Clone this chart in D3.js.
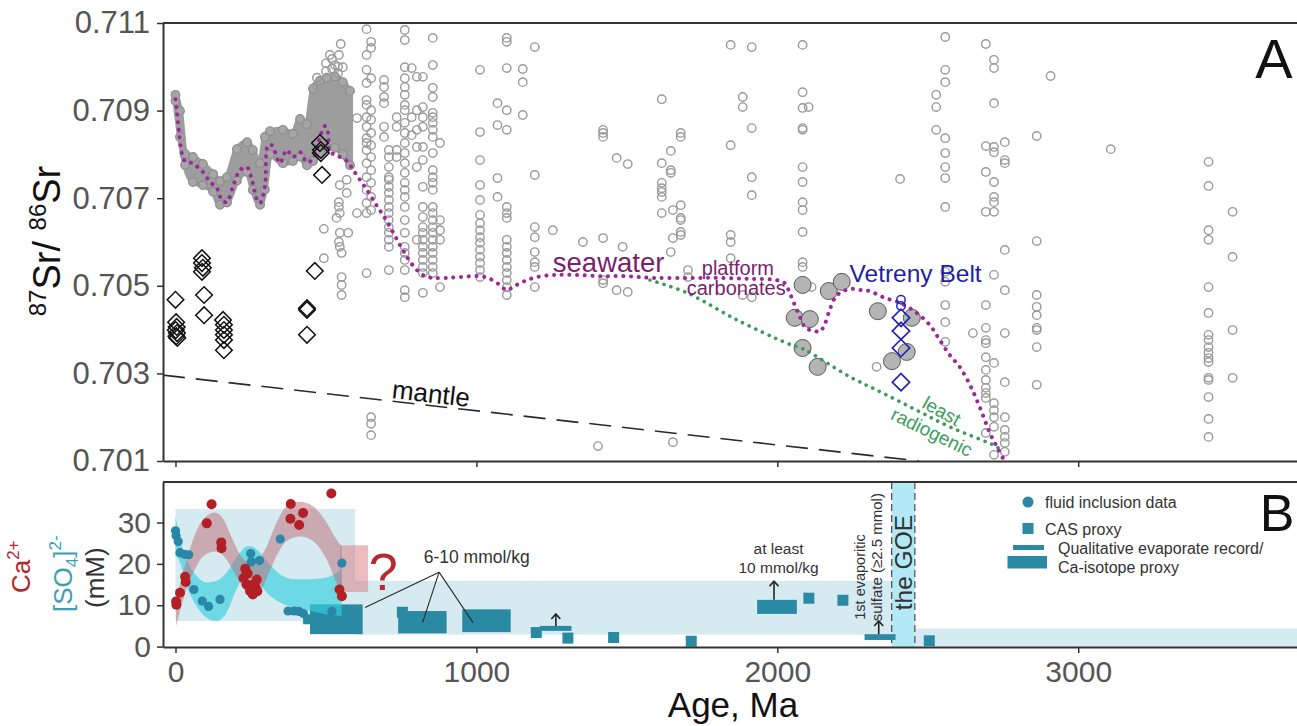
<!DOCTYPE html>
<html><head><meta charset="utf-8">
<script src="https://cdn.jsdelivr.net/npm/d3@7"></script>
<style>
html,body{margin:0;padding:0;background:#fff;}
svg{display:block;font-family:"Liberation Sans",Arial,Helvetica,sans-serif;}
</style></head><body>
<svg id="chart" width="1297" height="726"></svg>
<script>
// ---------------- DATA ----------------
const xTicks = [0, 1000, 2000, 3000];
const srTicks = [0.701, 0.703, 0.705, 0.707, 0.709, 0.711];
const mmTicks = [0, 10, 20, 30];

// Phanerozoic dense band of seawater data: [age, low, high]
const phanBand = [
  [0,0.70922,0.70936],[15,0.70840,0.70899],[32,0.70776,0.70801],[58,0.70737,0.70794],
  [91,0.70730,0.70778],[125,0.70715,0.70755],[148,0.70685,0.70739],[171,0.70690,0.70748],
  [204,0.70740,0.70812],[238,0.70760,0.70828],[257,0.70719,0.70810],[281,0.70685,0.70780],
  [297,0.70720,0.70840],[314,0.70800,0.70853],[357,0.70780,0.70856],[390,0.70785,0.70847],
  [414,0.70795,0.70881],[437,0.70775,0.70869],[457,0.70785,0.70950],[480,0.70805,0.70968],
  [503,0.70815,0.70975],[530,0.70815,0.70978],[556,0.70800,0.70965],[580,0.70775,0.70945]
];

// Scattered carbonate data (open grey circles): [age, [Sr values]]
const grayColumns = [
  [470,[0.70975,0.70958]],[500,[0.71008,0.70990]],[520,[0.71018,0.70996]],[540,[0.71000,0.70985]],
  [493,[0.70630,0.70563]],
  [513,[0.71027]],[530,[0.71004]],[535,[0.70655]],
  [543,[0.71027,0.70691,0.70680,0.70600]],
  [546,[0.70730,0.70666,0.70621,0.70589]],
  [549,[0.71052]],
  [552,[0.70575,0.70520,0.70502,0.70479]],
  [556,[0.70999]],[569,[0.70742,0.70712]],[574,[0.70621]],
  [603,[0.70883,0.70666]],
  [635,[0.71086,0.71027,0.70993,0.70963,0.70924,0.70913,0.70885,0.70863,0.70837,0.70826,0.70810,0.70780,0.70748,0.70719,0.70689,0.70666,0.70529]],
  [650,[0.71057,0.71043,0.70974,0.70901,0.70879,0.70849,0.70821,0.70794,0.70764,0.70735,0.70703,0.70673,0.70200,0.70185,0.70159]],
  [693,[0.70970,0.70954,0.70931,0.70917,0.70863,0.70840]],
  [709,[0.70810,0.70794,0.70771,0.70748,0.70742,0.70726,0.70712,0.70696,0.70680,0.70666,0.70650,0.70634,0.70621,0.70605,0.70589,0.70536]],
  [735,[0.70885,0.70863,0.70810,0.70794]],
  [762,[0.71084,0.71061,0.70999,0.70974,0.70954,0.70936,0.70913,0.70901,0.70872,0.70849,0.70826,0.70803,0.70780,0.70758,0.70735,0.70719,0.70703,0.70680,0.70650,0.70621,0.70589,0.70575,0.70559,0.70536,0.70490,0.70474]],
  [785,[0.70997,0.70885,0.70844]],
  [802,[0.70977,0.70901,0.70856,0.70817,0.70771,0.70605]],
  [822,[0.70977,0.70908,0.70885,0.70863,0.70817,0.70787,0.70726,0.70680,0.70657,0.70634,0.70621,0.70605,0.70589,0.70575,0.70559,0.70543,0.70529,0.70484]],
  [855,[0.71066,0.71004,0.70952,0.70931,0.70895,0.70885,0.70872,0.70856,0.70840,0.70803,0.70764,0.70748,0.70735,0.70719,0.70680,0.70666,0.70650,0.70634,0.70621,0.70605,0.70589,0.70575,0.70559,0.70543,0.70529]],
  [879,[0.70826,0.70650,0.70627,0.70605,0.70497]],
  [1012,[0.70993,0.70851,0.70787,0.70730,0.70696,0.70662,0.70643,0.70627,0.70611,0.70598,0.70582,0.70566,0.70552,0.70536,0.70520]],
  [1070,[0.70917,0.70867,0.70746,0.70703]],
  [1101,[0.71066,0.71057,0.70997,0.70901,0.70856,0.70680,0.70666,0.70655,0.70605,0.70589,0.70575,0.70559,0.70543,0.70529,0.70513,0.70497,0.70479]],
  [1154,[0.70995,0.70965,0.70890]],
  [1194,[0.71045,0.70753,0.70634,0.70611,0.70577,0.70554,0.70543,0.70497]],
  [1254,[0.70627]],[1354,[0.70600]],[1404,[0.70134]],
  [1421,[0.70856,0.70849,0.70840,0.70609,0.70513,0.70506]],
  [1466,[0.70792,0.70490]],[1486,[0.70589]],[1503,[0.70778,0.70486]],
  [1616,[0.70926,0.70780,0.70735,0.70723,0.70714,0.70703,0.70666]],
  [1646,[0.70808,0.70764,0.70758,0.70577]],
  [1653,[0.70673,0.70609,0.70143]],
  [1679,[0.70849,0.70840,0.70684,0.70655,0.70650,0.70623,0.70616]],
  [1703,[0.70536,0.70520]],
  [1845,[0.71050,0.70821,0.70616,0.70600,0.70563]],
  [1885,[0.70931,0.70908,0.70479]],
  [1915,[0.71045,0.70860,0.70748,0.70707,0.70474]],
  [2084,[0.71050,0.70942,0.70906,0.70860,0.70856,0.70771,0.70737,0.70691,0.70673,0.70623,0.70554,0.70543]],
  [2104,[0.70908]],[2114,[0.70497]],[2330,[0.70315]],[2408,[0.70744]],
  [2528,[0.70936,0.70908,0.70856]],
  [2558,[0.71068,0.70993,0.70965,0.70837,0.70803,0.70771,0.70746,0.70680,0.70532,0.70509,0.70456,0.70417,0.70372]],
  [2650,[0.70392]],
  [2693,[0.71052,0.70819,0.70760,0.70669,0.70456,0.70404,0.70376,0.70369,0.70337,0.70308,0.70285,0.70267,0.70255,0.70244,0.70164]],
  [2720,[0.71016,0.70997,0.70917,0.70817,0.70805,0.70737,0.70703,0.70691,0.70669,0.70525,0.70324,0.70232,0.70216,0.70200,0.70178,0.70114]],
  [2756,[0.70828,0.70787,0.70780,0.70582,0.70490,0.70392,0.70280,0.70200,0.70171,0.70155,0.70141,0.70121]],
  [2862,[0.70842,0.70602,0.70479,0.70452,0.70433,0.70404,0.70399,0.70360,0.70274]],
  [2908,[0.70979]],[3108,[0.70812]],
  [3433,[0.70783,0.70728,0.70627,0.70605,0.70497,0.70438,0.70388,0.70376,0.70360,0.70347,0.70335,0.70326,0.70290,0.70285,0.70246,0.70196,0.70155]],
  [3513,[0.70669,0.70566,0.70399,0.70290]]
];

// seawater curve (purple dotted)
const seawater = [
  [0,0.70926],[5,0.70895],[12,0.70850],[22,0.70800],[35,0.70782],[58,0.70780],[75,0.70770],[91,0.70760],
  [115,0.70737],[137,0.70724],[154,0.70696],[171,0.70691],[191,0.70726],[214,0.70764],[237,0.70771],
  [254,0.70742],[270,0.70698],[281,0.70689],[297,0.70726],[307,0.70820],[318,0.70822],[331,0.70805],
  [347,0.70780],[370,0.70810],[390,0.70794],[414,0.70805],[437,0.70782],[457,0.70790],[480,0.70840],
  [497,0.70865],[507,0.70850],[513,0.70805],[530,0.70800],[547,0.70794],[570,0.70785],[590,0.70765],
  [613,0.70742],[636,0.70719],[663,0.70689],[689,0.70662],[719,0.70627],[746,0.70593],[772,0.70563],
  [802,0.70536],[829,0.70522],[855,0.70518],[895,0.70518],[945,0.70520],[1012,0.70522],[1045,0.70516],
  [1078,0.70502],[1101,0.70490],[1128,0.70500],[1161,0.70511],[1201,0.70520],[1261,0.70525],[1328,0.70525],
  [1411,0.70522],[1495,0.70522],[1587,0.70518],[1710,0.70518],[1810,0.70518],[1910,0.70516],[1998,0.70513],
  [2025,0.70506],[2041,0.70484],[2058,0.70456],[2075,0.70429],[2091,0.70406],[2108,0.70399],[2124,0.70397],
  [2141,0.70395],[2157,0.70411],[2174,0.70445],[2191,0.70472],[2208,0.70484],[2227,0.70490],[2250,0.70493],
  [2280,0.70490],[2307,0.70488],[2351,0.70474],[2408,0.70461],[2463,0.70438],[2506,0.70411],[2540,0.70376],
  [2573,0.70342],[2606,0.70315],[2640,0.70274],[2663,0.70239],[2687,0.70198],[2706,0.70164],[2730,0.70132],
  [2749,0.70107]
];
// least radiogenic trend (green dotted)
const leastRadiogenic = [[1577,0.70513],[1700,0.70484],[1866,0.70422],[2032,0.70369],[2085,0.70356],
  [2242,0.70292],[2351,0.70255],[2463,0.70216],[2573,0.70178],[2730,0.70132],[2749,0.70121]];
// mantle evolution (dashed)
const mantle = [[-41.5,0.70296],[2470,0.70100]];

// black open diamonds
const blackDiamonds = [
  [0,0.70468],[2,0.70417],[4,0.70406],[1,0.70399],[5,0.70392],[3,0.70385],[6,0.70381],
  [88,0.70563],[88,0.70552],[91,0.70541],[88,0.70532],[95,0.70479],[95,0.70433],
  [158,0.70422],[161,0.70411],[161,0.70399],[161,0.70388],[161,0.70376],[161,0.70353],
  [437,0.70449],[437,0.70445],[437,0.70388],[463,0.70534],
  [480,0.70826],[483,0.70810],[483,0.70803],[487,0.70753]
];
// Vetreny Belt (blue)
const vetrenyDiamonds = [[2411,0.70427],[2411,0.70397],[2411,0.70358],[2411,0.70280]];
const vetrenyCircles = [[2411,0.70468],[2411,0.70454]];
// platform carbonates (filled grey circles)
const grayFilled = [[2084,0.70502],[2058,0.70427],[2108,0.70424],[2084,0.70358],[2134,0.70315],
  [2171,0.70488],[2214,0.70509],[2334,0.70442],[2447,0.70427],[2381,0.70328],[2430,0.70349]];

// ---- Panel B ----
const caDots = [[2,10.9],[3,10.1],[15,13],[32,16.9],[34,15.6],[104,29.8],[120,34.4],[152,25.2],[153,23.8],
  [226,16.6],[232,18.8],[236,15],[240,17.6],[244,14.8],[248,13.4],[257,12.6],[262,15.2],[266,14.3],
  [270,16.2],[272,13.4],[383,34.5],[382,30.9],[411,29.4],[424,32.3],[518,37],[545,13.8],[553,12.2]];
const so4Dots = [[0,28],[2,26.8],[9,25.4],[15,22.7],[30,22.3],[44,22.2],[61,13.8],[89,11],[110,9.7],
  [148,11.4],[250,22.5],[252,20.5],[279,20.8],[348,26],[374,8.6],[394,8.6],[410,8.5],[425,8],[520,8.5],[553,20.2]];
const caBand = [[2,4.9,11.5],[26,11.5,18],[59,17.9,26],[92,21.8,30.8],[131,23,32.4],[159,22,30.8],
  [187,19,26.4],[214,15.5,22.3],[242,12.5,20.4],[258,11.9,20.5],[281,13.1,21.5],[303,16.5,24.2],
  [336,22,30],[369,25.5,33.9],[414,26.6,35],[458,25.5,33.9],[502,21.1,30],[535,15.5,25.9],[552,13.1,24.2]];
const so4Band = [[0,22,31.5],[15,20.4,25.9],[37,14.7,21.1],[70,9.8,17.1],[103,7,15.5],[137,6.2,15.9],
  [170,8.2,17.9],[203,13.9,21.6],[242,17.9,24.3],[270,16.3,23.5],[303,13.1,20.7],[347,10.7,17.5],
  [391,9.5,16.3],[447,8.6,16.3],[502,7.8,16.7],[552,7.4,18.7]];
const blueBoxes = [[0,597,6.2,33.3],[597,2380,2.9,15.9],[2457,3800,0,4.4]];
const goeBand = [2380,2457];
const caRect = [547,640,13.2,24.5];
const caIsoBars = [[447,622,3.0,10.2],[424,447,5.4,7.8],[740,901,3.2,8.6],[953,1114,3.5,9.0],[1933,2065,7.9,11.3]];
const evapBars = [[1211,1316,3.8,5.0],[2290,2393,1.6,3.0]];
const casProxy = [[754,8.3],[1199,3.4],[1304,2.05],[1456,2.2],[1714,1.3],[2105,11.7],[2218,11.2],[2505,1.4]];
const arrowsUp = [[1264,5.0,7.9],[1989,11.3,15.8],[2337,3.0,6.2]];
const leaderApex = [876,18.0];
const leaderEnds = [[630,9.45],[821,5.8],[989,5.8]];

// ---------------- DRAW ----------------
const svg = d3.select("#chart");
svg.append("rect").attr("width",1297).attr("height",726).attr("fill","#fff");
const x = d3.scaleLinear().domain([-41.5, 3737]).range([163, 1300]);
const yA = d3.scaleLinear().domain([0.701, 0.711]).range([461, 23]);
const yB = d3.scaleLinear().domain([-0.1, 39.8]).range([647, 482]);
const FONT = '"Liberation Sans",Arial,Helvetica,sans-serif';

const defs = svg.append("defs");
defs.append("clipPath").attr("id","clipA").append("rect")
  .attr("x",x.range()[0]).attr("y",yA.range()[1]).attr("width",x.range()[1]-x.range()[0]).attr("height",yA.range()[0]-yA.range()[1]);
defs.append("clipPath").attr("id","clipB").append("rect")
  .attr("x",x.range()[0]).attr("y",yB.range()[1]).attr("width",x.range()[1]-x.range()[0]).attr("height",yB.range()[0]-yB.range()[1]);

// ===== Panel A =====
const gA = svg.append("g").attr("clip-path","url(#clipA)");
const bandArea = d3.area().x(d=>x(d[0])).y0(d=>yA(d[1])).y1(d=>yA(d[2])).curve(d3.curveMonotoneX);
gA.append("path").datum(phanBand).attr("d",bandArea).attr("fill","#9d9d9d").attr("stroke","#9d9d9d").attr("stroke-width",6).attr("stroke-linejoin","round");
const bandPts = phanBand.flatMap(d=>[[d[0],d[1]],[d[0],d[2]]]);
gA.selectAll("circle.band").data(bandPts).join("circle").attr("class","band")
  .attr("cx",d=>x(d[0])).attr("cy",d=>yA(d[1])).attr("r",4.3)
  .attr("fill","#a6a6a6").attr("stroke","#8f8f8f").attr("stroke-width",1.3);

const grayPts = grayColumns.flatMap(c=>c[1].map(v=>[c[0],v]));
gA.selectAll("circle.gray").data(grayPts).join("circle").attr("class","gray")
  .attr("cx",d=>x(d[0])).attr("cy",d=>yA(d[1])).attr("r",4.2)
  .attr("fill","none").attr("stroke","#9a9a9a").attr("stroke-width",1.4);

gA.selectAll("circle.filled").data(grayFilled).join("circle").attr("class","filled")
  .attr("cx",d=>x(d[0])).attr("cy",d=>yA(d[1])).attr("r",8.5)
  .attr("fill","#b4b4b4").attr("stroke","#5a5a5a").attr("stroke-width",1);

// mantle dashed line
gA.append("path").datum(mantle).attr("d",d3.line().x(d=>x(d[0])).y(d=>yA(d[1])))
  .attr("fill","none").attr("stroke","#2a2a2a").attr("stroke-width",1.6).attr("stroke-dasharray","22 11");

// seawater & least radiogenic dotted lines
gA.append("path").datum(leastRadiogenic).attr("d",d3.line().x(d=>x(d[0])).y(d=>yA(d[1])).curve(d3.curveCatmullRom))
  .attr("fill","none").attr("stroke","#3c9a5c").attr("stroke-width",3.6).attr("stroke-linecap","round").attr("stroke-dasharray","0.1 7.2");
gA.append("path").datum(seawater).attr("d",d3.line().x(d=>x(d[0])).y(d=>yA(d[1])).curve(d3.curveCatmullRom))
  .attr("fill","none").attr("stroke","#9b2a98").attr("stroke-width",4).attr("stroke-linecap","round").attr("stroke-dasharray","0.1 7.6");

// diamonds
const diamond = d3.symbol().type(d3.symbolSquare).size(138);
gA.selectAll("path.bd").data(blackDiamonds).join("path").attr("class","bd")
  .attr("d",diamond).attr("transform",d=>`translate(${x(d[0])},${yA(d[1])}) rotate(45)`)
  .attr("fill","none").attr("stroke","#111").attr("stroke-width",1.5);
gA.selectAll("circle.vc").data(vetrenyCircles).join("circle").attr("class","vc")
  .attr("cx",d=>x(d[0])).attr("cy",d=>yA(d[1])).attr("r",4.2)
  .attr("fill","none").attr("stroke","#2626b0").attr("stroke-width",1.5);
gA.selectAll("path.vd").data(vetrenyDiamonds).join("path").attr("class","vd")
  .attr("d",d3.symbol().type(d3.symbolSquare).size(150)).attr("transform",d=>`translate(${x(d[0])},${yA(d[1])}) rotate(45)`)
  .attr("fill","none").attr("stroke","#2626b0").attr("stroke-width",1.7);

// annotations A
const tA = svg.append("g").attr("font-family",FONT);
tA.append("text").attr("x",x(1254)).attr("y",yA(0.70532)).attr("font-size",27.5).attr("fill","#7a1f6f").text("seawater");
tA.append("text").attr("x",x(1749)).attr("y",yA(0.70525)).attr("font-size",20).attr("fill","#7a1f6f").text("platform");
tA.append("text").attr("x",x(1699)).attr("y",yA(0.70479)).attr("font-size",20).attr("fill","#7a1f6f").text("carbonates");
tA.append("text").attr("x",x(2240)).attr("y",yA(0.70509)).attr("font-size",24.5).attr("fill","#1f1fa6").text("Vetreny Belt");
{
  const ang = Math.atan2(yA(mantle[1][1])-yA(mantle[0][1]), x(mantle[1][0])-x(mantle[0][0]))*180/Math.PI;
  const a = 846, s = mantle[0][1] + (mantle[1][1]-mantle[0][1])*(a-mantle[0][0])/(mantle[1][0]-mantle[0][0]);
  tA.append("text").attr("transform",`translate(${x(a)},${yA(s)-3}) rotate(${ang})`)
    .attr("text-anchor","middle").attr("font-size",26).attr("fill","#111").text("mantle");
}
tA.append("text").attr("transform",`translate(${x(2546)},${yA(0.70214)}) rotate(29)`).attr("text-anchor","middle")
  .attr("dominant-baseline","central").attr("font-size",19).attr("fill","#3aa05a").text("least");
tA.append("text").attr("transform",`translate(${x(2513)},${yA(0.70166)}) rotate(26)`).attr("text-anchor","middle")
  .attr("dominant-baseline","central").attr("font-size",19).attr("fill","#3aa05a").text("radiogenic");
tA.append("text").attr("x",1274).attr("y",78).attr("text-anchor","middle").attr("font-size",56).attr("fill","#111").text("A");

// axes A
function styleAxis(g, fs){
  g.select(".domain").attr("stroke","#333").attr("stroke-width",2);
  g.selectAll(".tick line").attr("stroke","#333").attr("stroke-width",1.5);
  g.selectAll(".tick text").attr("fill","#555").attr("font-size",fs).attr("font-family",FONT);
}
const axAy = svg.append("g").attr("transform",`translate(${x.range()[0]},0)`)
  .call(d3.axisLeft(yA).tickValues(srTicks).tickFormat(d3.format(".3f")).tickSize(6).tickPadding(7).tickSizeOuter(0));
styleAxis(axAy,31);
const axAx = svg.append("g").attr("transform",`translate(0,${yA.range()[0]})`)
  .call(d3.axisBottom(x).tickValues(xTicks).tickFormat("").tickSize(6).tickSizeOuter(0));
styleAxis(axAx,30);
svg.append("line").attr("x1",x.range()[0]).attr("x2",x.range()[1]).attr("y1",yA.range()[1]).attr("y2",yA.range()[1])
  .attr("stroke","#333").attr("stroke-width",2);
{
  const t = svg.append("text").attr("transform","translate(60,241) rotate(-90)").attr("text-anchor","middle")
    .attr("font-family",FONT).attr("fill","#111");
  t.append("tspan").attr("font-size",24).attr("dy",-14).text("87");
  t.append("tspan").attr("font-size",38).attr("dy",14).text("Sr/\u00A0");
  t.append("tspan").attr("font-size",24).attr("dy",-14).text("86");
  t.append("tspan").attr("font-size",38).attr("dy",14).text("Sr");
}

// ===== Panel B =====
const gB = svg.append("g").attr("clip-path","url(#clipB)");
gB.selectAll("rect.box").data(blueBoxes).join("rect").attr("class","box")
  .attr("x",d=>x(d[0])).attr("width",d=>x(d[1])-x(d[0]))
  .attr("y",d=>yB(d[3])).attr("height",d=>yB(d[2])-yB(d[3])).attr("fill","#d6eaf1");
gB.append("rect").attr("x",x(goeBand[0])).attr("width",x(goeBand[1])-x(goeBand[0]))
  .attr("y",yB.range()[1]).attr("height",yB.range()[0]-yB.range()[1]).attr("fill","#b3e8f6");
gB.selectAll("line.goe").data(goeBand).join("line").attr("class","goe")
  .attr("x1",d=>x(d)).attr("x2",d=>x(d)).attr("y1",yB.range()[1]).attr("y2",yB.range()[0])
  .attr("stroke","#555").attr("stroke-width",1.3).attr("stroke-dasharray","7 4");
gB.append("rect").attr("x",x(caRect[0])).attr("width",x(caRect[1])-x(caRect[0]))
  .attr("y",yB(caRect[3])).attr("height",yB(caRect[2])-yB(caRect[3])).attr("fill","rgba(215,120,128,0.5)");
gB.selectAll("rect.bar").data(caIsoBars.concat(evapBars)).join("rect").attr("class","bar")
  .attr("x",d=>x(d[0])).attr("width",d=>x(d[1])-x(d[0]))
  .attr("y",d=>yB(d[3])).attr("height",d=>yB(d[2])-yB(d[3])).attr("fill","#2b8aa3");
gB.selectAll("rect.cas").data(casProxy).join("rect").attr("class","cas")
  .attr("x",d=>x(d[0])-5.5).attr("y",d=>yB(d[1])-5.5).attr("width",11).attr("height",11).attr("fill","#2b8aa3");
const bandB = d3.area().x(d=>x(d[0])).y0(d=>yB(d[1])).y1(d=>yB(d[2])).curve(d3.curveMonotoneX);
gB.append("path").datum(so4Band).attr("d",bandB).attr("fill","rgba(50,208,222,0.65)");
gB.append("path").datum(caBand).attr("d",bandB).attr("fill","rgba(190,105,115,0.5)");
gB.selectAll("circle.so4").data(so4Dots).join("circle").attr("class","so4")
  .attr("cx",d=>x(d[0])).attr("cy",d=>yB(d[1])).attr("r",4.6).attr("fill","#2b86a8");
gB.selectAll("circle.ca").data(caDots).join("circle").attr("class","ca")
  .attr("cx",d=>x(d[0])).attr("cy",d=>yB(d[1])).attr("r",5).attr("fill","#b21f24");
// arrows
const ar = gB.selectAll("g.arrow").data(arrowsUp).join("g").attr("class","arrow");
ar.append("line").attr("x1",d=>x(d[0])).attr("x2",d=>x(d[0])).attr("y1",d=>yB(d[1])).attr("y2",d=>yB(d[2]))
  .attr("stroke","#222").attr("stroke-width",1.6);
ar.append("path").attr("d",d=>`M${x(d[0])-4.5},${yB(d[2])+5} L${x(d[0])},${yB(d[2])} L${x(d[0])+4.5},${yB(d[2])+5}`)
  .attr("fill","none").attr("stroke","#222").attr("stroke-width",1.6);
// leader lines
gB.selectAll("line.lead").data(leaderEnds).join("line").attr("class","lead")
  .attr("x1",x(leaderApex[0])).attr("y1",yB(leaderApex[1])).attr("x2",d=>x(d[0])).attr("y2",d=>yB(d[1]))
  .attr("stroke","#2a2a2a").attr("stroke-width",1.1);

// annotations B
const tB = svg.append("g").attr("font-family",FONT);
tB.append("text").attr("x",x(690)).attr("y",yB(13.8)).attr("text-anchor","middle").attr("font-size",52).attr("fill","#b5292f").text("?");
tB.append("text").attr("x",x(1001)).attr("y",yB(20.3)).attr("text-anchor","middle").attr("font-size",17.5).attr("fill","#333").text("6-10 mmol/kg");
tB.append("text").attr("x",x(2004)).attr("y",yB(22.5)).attr("text-anchor","middle").attr("font-size",15.5).attr("fill","#333").text("at least");
tB.append("text").attr("x",x(2004)).attr("y",yB(17.7)).attr("text-anchor","middle").attr("font-size",15.5).attr("fill","#333").text("10 mmol/kg");
tB.append("text").attr("transform",`translate(${x((goeBand[0]+goeBand[1])/2)+8.5},${yB(20.3)}) rotate(-90)`)
  .attr("text-anchor","middle").attr("font-size",24.5).attr("fill","#333").text("the GOE");
tB.append("text").attr("transform",`translate(${x(2290)},${yB(6.5)}) rotate(-90)`)
  .attr("font-size",14.5).attr("fill","#333").text("1st evaporitic");
tB.append("text").attr("transform",`translate(${x(2348)},${yB(6.1)}) rotate(-90)`)
  .attr("font-size",15).attr("fill","#333").text("sulfate (\u22652.5 mmol)");
// legend
const lg = svg.append("g").attr("font-family",FONT).attr("font-size",16).attr("fill","#333");
lg.append("circle").attr("cx",1028).attr("cy",502).attr("r",5.5).attr("fill","#2b86a8");
lg.append("text").attr("x",1045).attr("y",508).text("fluid inclusion data");
lg.append("rect").attr("x",1022.5).attr("y",523).attr("width",11).attr("height",11).attr("fill","#2b8aa3");
lg.append("text").attr("x",1045).attr("y",535).text("CAS proxy");
lg.append("rect").attr("x",1013).attr("y",545).attr("width",31).attr("height",5).attr("fill","#2b8aa3");
lg.append("rect").attr("x",1007.5).attr("y",556).attr("width",39.5).attr("height",12.5).attr("fill","#2b8aa3");
lg.append("text").attr("x",1058).attr("y",554).text("Qualitative evaporate record/");
lg.append("text").attr("x",1058).attr("y",573).text("Ca-isotope proxy");
svg.append("text").attr("x",1277).attr("y",531).attr("text-anchor","middle").attr("font-family",FONT)
  .attr("font-size",52).attr("fill","#111").text("B");

// axes B
const axBy = svg.append("g").attr("transform",`translate(${x.range()[0]},0)`)
  .call(d3.axisLeft(yB).tickValues(mmTicks).tickSize(6).tickPadding(6).tickSizeOuter(0));
styleAxis(axBy,30);
const axBx = svg.append("g").attr("transform",`translate(0,${yB.range()[0]})`)
  .call(d3.axisBottom(x).tickValues(xTicks).tickFormat(d3.format("d")).tickSize(6).tickPadding(8).tickSizeOuter(0));
styleAxis(axBx,30);
svg.append("line").attr("x1",x.range()[0]).attr("x2",x.range()[1]).attr("y1",yB.range()[1]).attr("y2",yB.range()[1])
  .attr("stroke","#333").attr("stroke-width",2);
svg.append("text").attr("x",733).attr("y",717).attr("text-anchor","middle").attr("font-family",FONT)
  .attr("font-size",35).attr("fill","#111").text("Age, Ma");
// rotated y label B
{
  const t1 = svg.append("text").attr("transform","translate(30,593) rotate(-90)").attr("font-family",FONT).attr("fill","#b2282e");
  t1.append("tspan").attr("font-size",26).text("Ca");
  t1.append("tspan").attr("font-size",17).attr("dy",-11).text("2+");
  const t2 = svg.append("text").attr("transform","translate(72,612) rotate(-90)").attr("font-family",FONT).attr("fill","#3c9fb4");
  t2.append("tspan").attr("font-size",26).text("[SO");
  t2.append("tspan").attr("font-size",17).attr("dy",6).text("4");
  t2.append("tspan").attr("font-size",26).attr("dy",-6).text("]");
  t2.append("tspan").attr("font-size",17).attr("dy",-11).text("2-");
  svg.append("text").attr("transform","translate(104,608) rotate(-90)").attr("font-family",FONT)
    .attr("font-size",26).attr("fill","#333").text("(mM)");
}
</script>
</body></html>
